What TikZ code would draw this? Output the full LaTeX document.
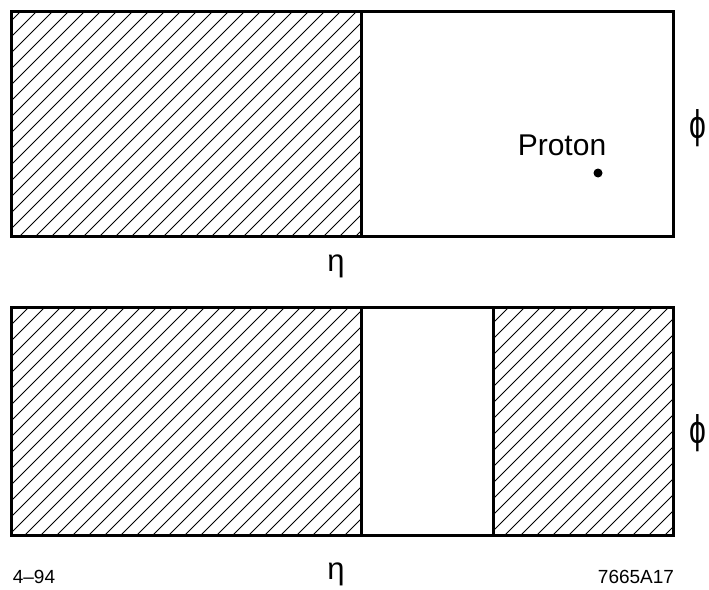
\documentclass[tikz,border=0pt]{standalone}
\usepackage{fontspec}
\setmainfont{Liberation Sans}
\usetikzlibrary{positioning}

\begin{document}
\begin{tikzpicture}[x=1pt,y=-1pt,
            frame/.style={line width=3pt},
            hatchline/.style={line width=0.8pt},
            etalabel/.style={font=\fontsize{31}{31}\selectfont},
            philabel/.style={font=\fontsize{40}{40}\selectfont,xscale=0.75},
            smalllabel/.style={font=\fontsize{19}{19}\selectfont,anchor=base}]
            \useasboundingbox (0,0) rectangle (709,589);
            % hatched regions
            \begin{scope}
                \clip (11,11) rectangle (361,236);
                \foreach \c in {0,16,...,1300} \draw[hatchline] (\c-700,700) -- (\c,0);
            \end{scope}
            \begin{scope}
                \clip (11,307) rectangle (361,535);
                \foreach \c in {0,16,...,1300} \draw[hatchline] (\c-700,700) -- (\c,0);
            \end{scope}
            \begin{scope}
                \clip (493,307) rectangle (673,535);
                \foreach \c in {0,16,...,1300} \draw[hatchline] (\c-700,700) -- (\c,0);
            \end{scope}
            % frames
            \draw[frame] (11,11) rectangle (673,236);
            \draw[frame] (361,11) -- (361,236);
            \draw[frame] (11,307) rectangle (673,535);
            \draw[frame] (361,307) -- (361,535);
            \draw[frame] (493,307) -- (493,535);
            % labels
            \node[font=\fontsize{30}{30}\selectfont,anchor=base] (proton) at (562,155) {Proton};
            \fill (598,173) circle (4.5);
            \node[philabel] (phitop) at (698,128) {ϕ};
            \node[etalabel] (etatop) at (336,266) {η};
            \node[philabel] (phibot) at (698,433) {ϕ};
            \node[etalabel] (etabot) at (336,574) {η};
            \node[smalllabel] (date) at (34,583) {4–94};
            \node[smalllabel] (fignum) at (636,583) {7665A17};
        \end{tikzpicture}
\end{document}
